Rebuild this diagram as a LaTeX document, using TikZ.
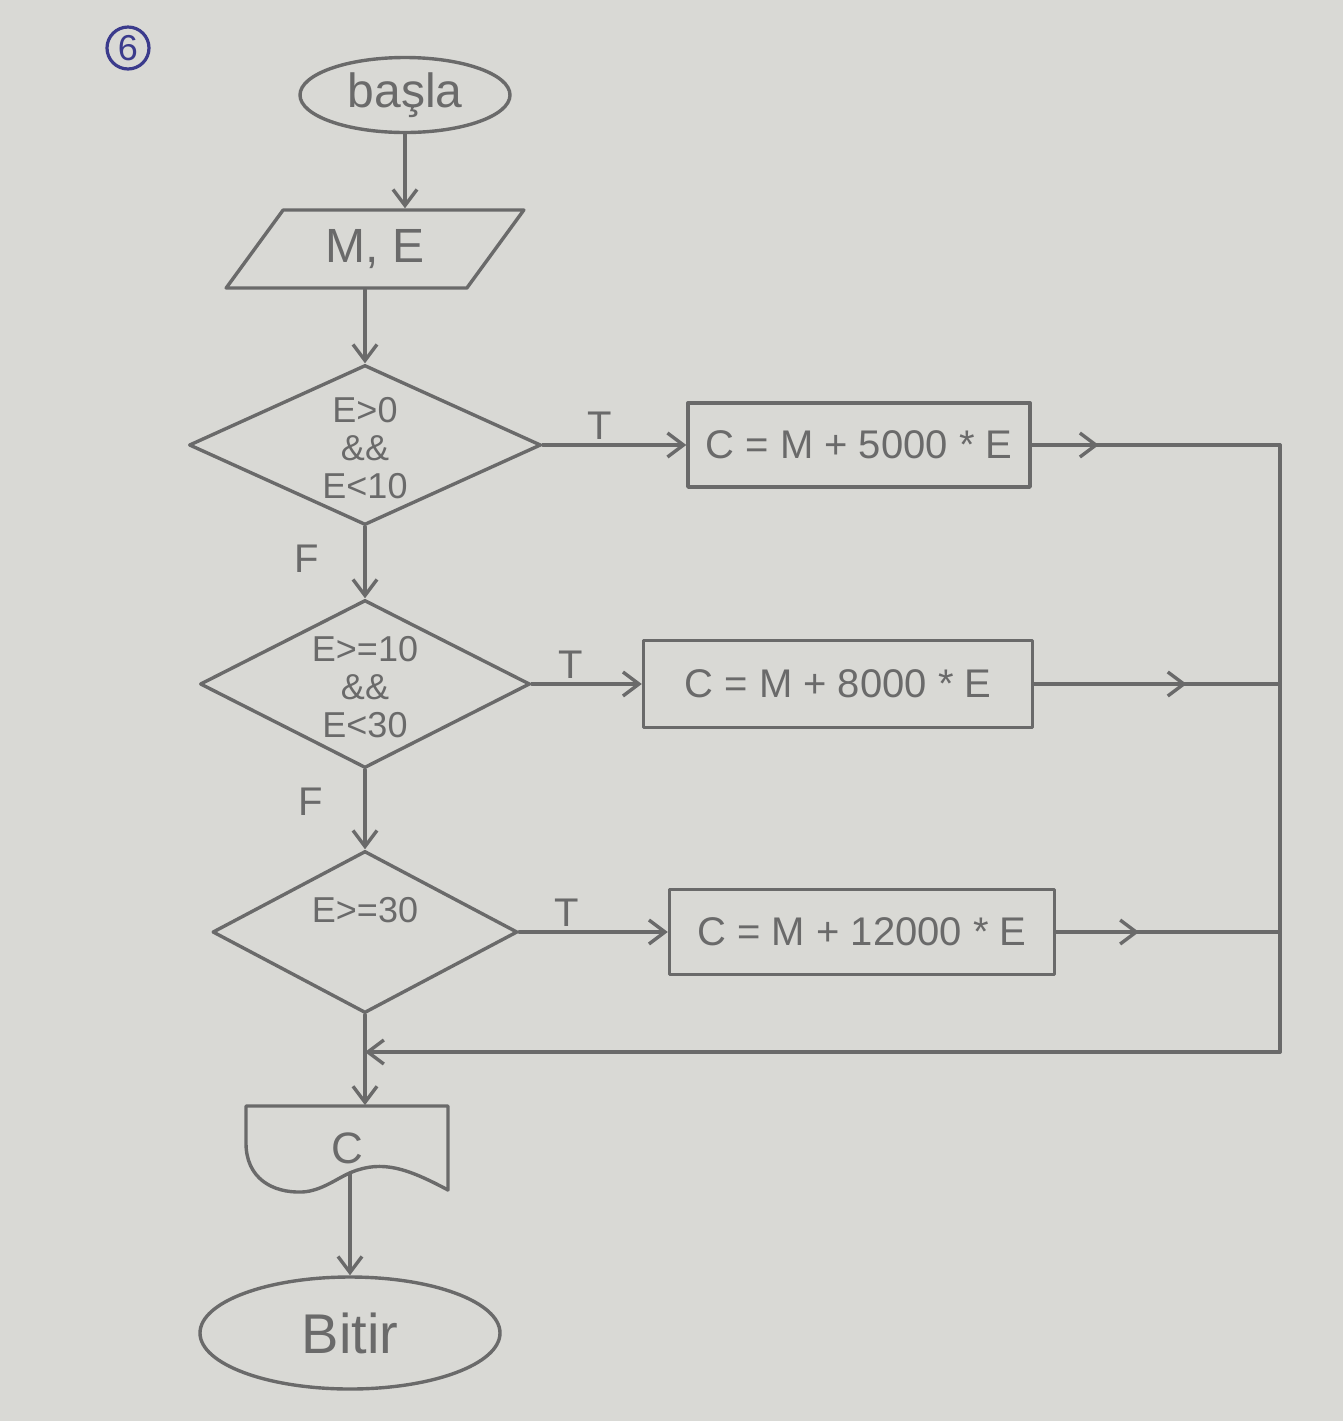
\documentclass[tikz,border=0pt]{standalone}
\usepackage{fontspec}
\setmainfont{Liberation Sans}
\usetikzlibrary{shapes.geometric,arrows.meta,decorations.markings,calc}
\definecolor{paper}{HTML}{D9D9D5}
\definecolor{pencil}{HTML}{6A6A6A}
\definecolor{ink}{HTML}{3B3B8C}
\begin{document}
\begin{tikzpicture}[x=0.5pt,y=-0.5pt,
  pencil/.style={draw=pencil,line width=1.7pt,line cap=round,line join=round},
  arr/.style={pencil,-{Straight Barb[length=8pt,width=12pt]}},
  midarrow/.style={postaction={decorate},decoration={markings,
      mark=at position #1 with {\arrow[pencil,line width=1.7pt]{Straight Barb[length=8pt,width=12pt]}}}},
  terminal/.style={ellipse,pencil,inner sep=0pt,text=pencil},
  iobox/.style={trapezium,trapezium left angle=52,trapezium right angle=128,
      trapezium stretches=true,pencil,inner sep=0pt,text=pencil},
  procbox/.style={rectangle,pencil,inner sep=0pt,text=pencil,font=\fontsize{20}{22}\selectfont},
  decbox/.style={diamond,pencil,inner sep=0pt},
  dtext/.style={text=pencil,align=center,inner sep=0pt,font=\fontsize{18}{19}\selectfont},
  lbl/.style={text=pencil,inner sep=2pt,font=\fontsize{20}{22}\selectfont}
]
\useasboundingbox[fill=paper] (0,0) rectangle (1343,1421);

% page number
\node[circle,draw=ink,line width=1.6pt,minimum size=21pt,inner sep=0pt,text=ink,
      font=\fontsize{18}{20}\selectfont] (num) at (128,48) {6};

% nodes
\node[terminal,minimum width=105pt,minimum height=37.5pt,font=\fontsize{24}{26}\selectfont]
  (start) at (405,95) {başla};
\node[iobox,minimum width=149pt,minimum height=39pt,font=\fontsize{24}{26}\selectfont]
  (in) at (375,249) {M, E};

\node[decbox,minimum width=176pt,minimum height=80pt] (d1) at (365,445) {};
\node[dtext] (d1t) at ($(d1)+(0,3)$) {E>0\\\&\&\\E<10};
\node[decbox,minimum width=165pt,minimum height=84pt] (d2) at (365,684) {};
\node[dtext] (d2t) at ($(d2)+(0,3)$) {E>=10\\\&\&\\E<30};
\node[decbox,minimum width=152.5pt,minimum height=81pt] (d3) at (365,932) {};
\node[dtext] (d3t) at ($(d3)+(0,-22)$) {E>=30};

\node[procbox,minimum width=171pt,minimum height=42pt] (b1) at (859,445) {C = M + 5000 * E};
\node[procbox,minimum width=194.5pt,minimum height=43.5pt] (b2) at (838,684) {C = M + 8000 * E};
\node[procbox,minimum width=192.5pt,minimum height=42.5pt] (b3) at (862,932) {C = M + 12000 * E};

% output document shape
\node[rectangle,minimum width=101.5pt,minimum height=42.5pt,inner sep=0pt,text=pencil,
      font=\fontsize{22}{24}\selectfont] (out) at (347,1148) {C};
\draw[pencil,shift={(out.center)}]
  (-101,-42) -- (101,-42) -- (101,42)
  .. controls (60,20) and (35,12) .. (5,24)
  .. controls (-10,30) and (-25,43) .. (-45,44)
  .. controls (-75,45) and (-101,30) .. (-101,-5) -- cycle;
\coordinate (outw) at ($(out.center)+(3,25)$);

\node[terminal,minimum width=150pt,minimum height=56pt,font=\fontsize{28}{30}\selectfont]
  (stop) at (350,1333) {Bitir};

% rail coordinates
\coordinate (r1) at (1280,445);
\coordinate (r2) at (1280,684);
\coordinate (r3) at (1280,932);
\coordinate (r4) at (1280,1052);
\coordinate (j) at (365,1052);

% connectors
\draw[arr] (start.south) -- (start.south |- in.north);
\draw[arr] (in.south -| d1.north) -- (d1.north);
\draw[arr] (d1.south) -- node[lbl,left=20pt,pos=0.45]{F} (d2.north);
\draw[arr] (d2.south) -- node[lbl,left=18pt,pos=0.4]{F} (d3.north);
\draw[arr] (d3.south) -- (d3.south |- out.north);
\draw[arr] (outw) -- (stop.north);

\draw[arr] (d1.east) -- node[lbl,above,pos=0.4]{T} (b1.west);
\draw[arr] (d2.east) -- node[lbl,above,pos=0.35]{T} (b2.west);
\draw[arr] (d3.east) -- node[lbl,above,pos=0.32]{T} (b3.west);

\draw[pencil,midarrow=0.27] (b1.east) -- (r1);
\draw[pencil,midarrow=0.62] (b2.east) -- (r2);
\draw[pencil,midarrow=0.37] (b3.east) -- (r3);
\draw[pencil] (r1) -- (r4);
\draw[arr] (r4) -- (j);
\end{tikzpicture}
\end{document}
